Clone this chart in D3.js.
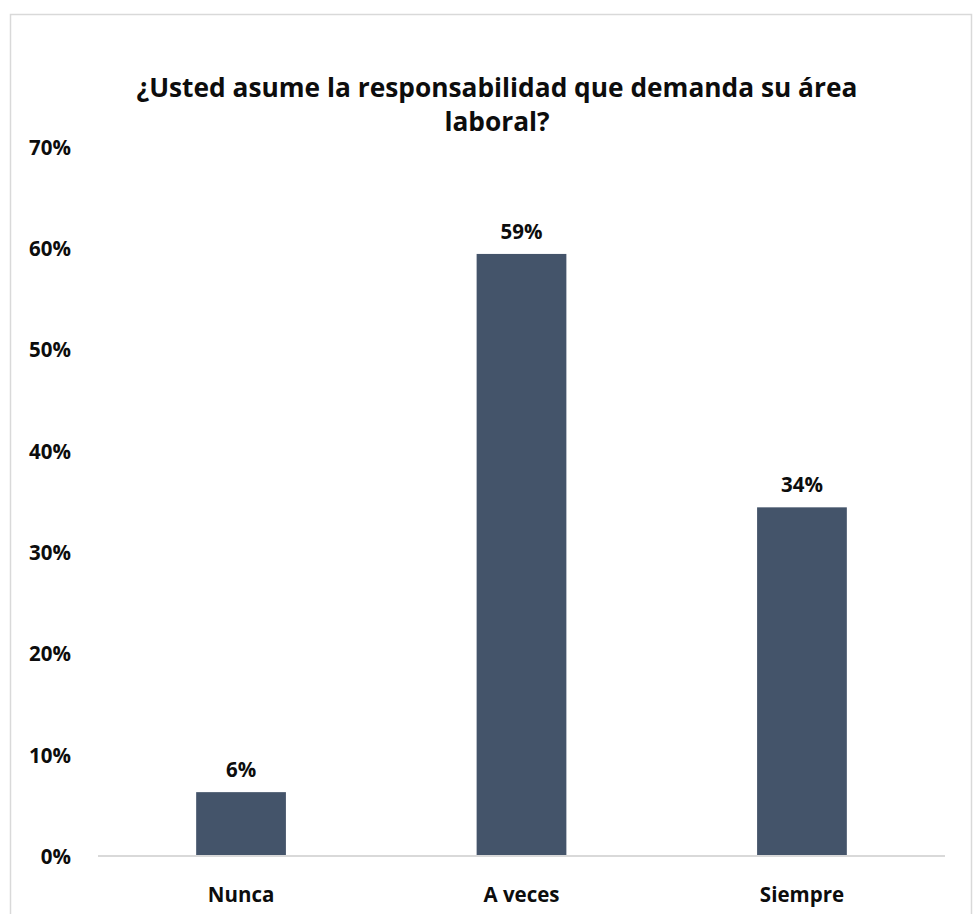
<!DOCTYPE html>
<html>
<head>
<meta charset="utf-8">
<script src="https://cdn.jsdelivr.net/npm/d3@7"></script>
<style>
  html, body { margin: 0; padding: 0; background: #fff; }
  svg text { font-family: "Open Sans", Lato, sans-serif; font-weight: bold; fill: #0d0d0d; }
</style>
</head>
<body>
<svg id="chart" width="975" height="914"></svg>
<script>
// Survey answers and their shares
const categories = ["Nunca", "A veces", "Siempre"];
const shares = [0.063, 0.594, 0.344];
const yTicks = [0, 0.1, 0.2, 0.3, 0.4, 0.5, 0.6, 0.7];
const titleLines = ["¿Usted asume la responsabilidad que demanda su área", "laboral?"];

const svg = d3.select("#chart");
const plot = { left: 98, right: 945, top: 146.5, bottom: 856 };
const FONT = "'Open Sans', Lato, sans-serif";
const LABEL_SIZE = 20.5;

// Outer frame (bottom edge runs off the page)
svg.append("rect")
  .attr("x", 10.5).attr("y", 14.5)
  .attr("width", 961).attr("height", 930)
  .attr("fill", "none").attr("stroke", "#d9d9d9").attr("stroke-width", 1.5);

// Title
const title = svg.append("text")
  .attr("text-anchor", "middle")
  .attr("font-size", 26.3);
title.selectAll("tspan")
  .data(titleLines)
  .join("tspan")
  .attr("x", 497)
  .attr("y", (d, i) => 97 + i * 34)
  .text(d => d);

const x = d3.scaleBand()
  .domain(categories)
  .range([plot.left, plot.right])
  .paddingInner(0.68)
  .paddingOuter(0.35);

const y = d3.scaleLinear()
  .domain([0, 0.7])
  .range([plot.bottom, plot.top]);

// Value axis: labels only
const yAxis = d3.axisLeft(y)
  .tickValues(yTicks)
  .tickFormat(d3.format(".0%"))
  .tickSize(0)
  .tickPadding(0);
const gy = svg.append("g")
  .attr("transform", `translate(71,1)`)
  .call(yAxis);
gy.select(".domain").remove();
gy.selectAll("text")
  .attr("font-size", LABEL_SIZE)
  .attr("font-family", FONT)
  .attr("font-weight", "bold")
  .attr("fill", "#0d0d0d");

// Bars
svg.append("g")
  .selectAll("rect")
  .data(categories)
  .join("rect")
  .attr("x", d => x(d))
  .attr("width", x.bandwidth())
  .attr("y", (d, i) => y(shares[i]))
  .attr("height", (d, i) => y(0) - y(shares[i]))
  .attr("fill", "#44546a");

// Category axis with baseline
const xAxis = d3.axisBottom(x).tickSize(0).tickPadding(0);
const gx = svg.append("g")
  .attr("transform", `translate(0,${plot.bottom})`)
  .call(xAxis);
gx.select(".domain").attr("stroke", "#d9d9d9").attr("stroke-width", 2)
  .attr("d", `M${plot.left},0H${plot.right}`);
gx.selectAll("text")
  .attr("dy", null)
  .attr("y", 46)
  .attr("font-size", LABEL_SIZE)
  .attr("font-family", FONT)
  .attr("font-weight", "bold")
  .attr("fill", "#0d0d0d");

// Value labels above bars
const fmt = d3.format(".0%");
svg.append("g")
  .selectAll("text")
  .data(categories)
  .join("text")
  .attr("x", d => x(d) + x.bandwidth() / 2)
  .attr("y", (d, i) => y(shares[i]) - 15)
  .attr("text-anchor", "middle")
  .attr("font-size", LABEL_SIZE)
  .text((d, i) => fmt(shares[i]));
</script>
</body>
</html>
